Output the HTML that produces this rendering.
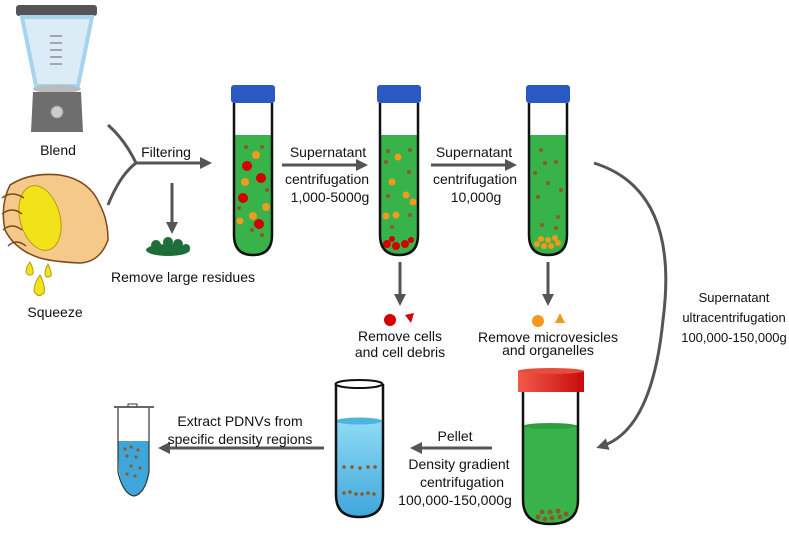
<!DOCTYPE html>
<html><head><meta charset="utf-8"><style>
html,body{margin:0;padding:0;background:#fff;width:789px;height:536px;overflow:hidden}
text{font-family:"Liberation Sans",Arial,sans-serif;font-size:14px;fill:#111}
</style></head><body>
<svg width="789" height="536" viewBox="0 0 789 536" xmlns="http://www.w3.org/2000/svg">
<defs>
<marker id="ah" viewBox="0 0 10 10" refX="5" refY="5" markerWidth="4" markerHeight="4" orient="auto"><path d="M0,0L10,5L0,10z" fill="#555"/></marker>
<linearGradient id="bl" x1="0" y1="0" x2="0" y2="1"><stop offset="0" stop-color="#8fdcf5"/><stop offset="1" stop-color="#3fa6dc"/></linearGradient>
<linearGradient id="rc" x1="0" y1="0" x2="1" y2="0"><stop offset="0" stop-color="#f25a4a"/><stop offset="1" stop-color="#c80c0c"/></linearGradient>
</defs>

<!-- Blender -->
<rect x="16" y="5" width="81" height="11" rx="3" fill="#555"/>
<path d="M22,17 L92,17 L78,86 L36,86 Z" fill="#dcecf6" stroke="#a6d4ee" stroke-width="4"/>
<g stroke="#777" stroke-width="1.2"><line x1="50" y1="36" x2="62" y2="36"/><line x1="50" y1="43" x2="62" y2="43"/><line x1="50" y1="50" x2="62" y2="50"/><line x1="50" y1="57" x2="62" y2="57"/><line x1="50" y1="64" x2="62" y2="64"/></g>
<ellipse cx="57" cy="89" rx="24" ry="4" fill="#bbb"/>
<path d="M33,92 L81,92 L83,132 L31,132 Z" fill="#6e6e6e"/>
<circle cx="57" cy="112" r="6" fill="#ccc" stroke="#999"/>
<text x="58" y="155" text-anchor="middle">Blend</text>

<!-- Hand & lemon -->
<path d="M10,185 Q30,172 60,175 Q90,180 100,205 Q108,220 108,240 Q100,262 80,263 Q55,262 40,258 Q15,250 5,230 Q0,205 10,185Z" fill="#f5c98a" stroke="#7a4a1a" stroke-width="1.5"/>
<ellipse cx="40" cy="218" rx="20" ry="33" transform="rotate(-15 40 218)" fill="#f2e21a" stroke="#b89a10"/>
<path d="M2,198 Q12,190 24,198 M2,214 Q12,206 22,214 M3,230 Q12,222 22,230 M8,246 Q16,238 26,246" fill="none" stroke="#7a4a1a" stroke-width="1.5"/>
<g fill="#f2e21a" stroke="#b89a10"><path d="M40,275 Q46,287 44,293 Q38,299 34,291 Q34,283 40,275Z"/><path d="M30,262 Q34,270 33,274 Q28,277 26,272 Q26,267 30,262Z"/><path d="M48,264 Q52,272 51,276 Q46,279 45,274 Q45,269 48,264Z"/></g>
<text x="55" y="317" text-anchor="middle">Squeeze</text>

<!-- Fork -->
<path d="M108,125 Q125,140 136,163 M108,205 Q120,175 136,163 L206,163" fill="none" stroke="#555" stroke-width="3" marker-end="url(#ah)"/>
<text x="166" y="157" text-anchor="middle">Filtering</text>
<line x1="172" y1="183" x2="172" y2="228" stroke="#555" stroke-width="3" marker-end="url(#ah)"/>
<g fill="#1f6e3a"><ellipse cx="168" cy="250" rx="22" ry="6"/><circle cx="156" cy="245" r="5"/><circle cx="168" cy="242" r="5"/><circle cx="178" cy="244" r="5"/><circle cx="186" cy="248" r="4"/></g>
<text x="183" y="282" text-anchor="middle">Remove large residues</text>

<!-- Tube 1 -->
<rect x="231" y="85" width="44" height="18" rx="3" fill="#2b59c3"/>
<path d="M234,135 L272,135 L272,235 Q272,255 253,255 Q234,255 234,235Z" fill="#37b34a"/>
<path d="M234,103 L234,235 Q234,255 253,255 Q272,255 272,235 L272,103" fill="none" stroke="#111" stroke-width="2.5"/>
<g fill="#d40000"><circle cx="247" cy="166" r="5"/><circle cx="261" cy="178" r="5"/><circle cx="243" cy="198" r="5"/><circle cx="259" cy="224" r="5"/></g>
<g fill="#f29a1e"><circle cx="256" cy="155" r="4"/><circle cx="245" cy="182" r="4"/><circle cx="266" cy="207" r="4"/><circle cx="253" cy="216" r="4"/><circle cx="240" cy="221" r="3.5"/></g>
<g fill="#8b5a2b"><circle cx="246" cy="147" r="2"/><circle cx="262" cy="147" r="2"/><circle cx="267" cy="190" r="2"/><circle cx="239" cy="208" r="2"/><circle cx="262" cy="235" r="2"/><circle cx="252" cy="230" r="2"/></g>

<!-- arrow 1 -->
<line x1="282" y1="165" x2="362" y2="165" stroke="#555" stroke-width="3" marker-end="url(#ah)"/>
<text x="328" y="157" text-anchor="middle">Supernatant</text>
<text x="327" y="184" text-anchor="middle">centrifugation</text>
<text x="330" y="202" text-anchor="middle">1,000-5000g</text>

<!-- Tube 2 -->
<rect x="377" y="85" width="44" height="18" rx="3" fill="#2b59c3"/>
<path d="M380,135 L418,135 L418,235 Q418,255 399,255 Q380,255 380,235Z" fill="#37b34a"/>
<path d="M380,103 L380,235 Q380,255 399,255 Q418,255 418,235 L418,103" fill="none" stroke="#111" stroke-width="2.5"/>
<g fill="#d40000"><circle cx="387" cy="244" r="4"/><circle cx="396" cy="246" r="4"/><circle cx="405" cy="244" r="4"/><circle cx="411" cy="240" r="3"/><circle cx="392" cy="239" r="3"/></g>
<g fill="#f29a1e"><circle cx="398" cy="157" r="3.5"/><circle cx="392" cy="182" r="3.5"/><circle cx="406" cy="195" r="3.5"/><circle cx="413" cy="202" r="3.5"/><circle cx="386" cy="216" r="3.5"/><circle cx="396" cy="215" r="3.5"/></g>
<g fill="#8b5a2b"><circle cx="388" cy="151" r="2"/><circle cx="410" cy="150" r="2"/><circle cx="386" cy="162" r="2"/><circle cx="409" cy="172" r="2"/><circle cx="388" cy="196" r="2"/><circle cx="410" cy="215" r="2"/><circle cx="392" cy="227" r="2"/></g>
<line x1="400" y1="262" x2="400" y2="300" stroke="#555" stroke-width="3" marker-end="url(#ah)"/>
<circle cx="390" cy="320" r="6" fill="#d40000"/><path d="M405,315 L414,313 L411,323Z" fill="#d40000"/>
<text x="400" y="341" text-anchor="middle">Remove cells</text>
<text x="400" y="357" text-anchor="middle">and cell debris</text>

<!-- arrow 2 -->
<line x1="431" y1="165" x2="511" y2="165" stroke="#555" stroke-width="3" marker-end="url(#ah)"/>
<text x="474" y="157" text-anchor="middle">Supernatant</text>
<text x="475" y="184" text-anchor="middle">centrifugation</text>
<text x="476" y="202" text-anchor="middle">10,000g</text>

<!-- Tube 3 -->
<rect x="526" y="85" width="44" height="18" rx="3" fill="#2b59c3"/>
<path d="M529,135 L567,135 L567,235 Q567,255 548,255 Q529,255 529,235Z" fill="#37b34a"/>
<path d="M529,103 L529,235 Q529,255 548,255 Q567,255 567,235 L567,103" fill="none" stroke="#111" stroke-width="2.5"/>
<g fill="#f29a1e"><circle cx="537" cy="244" r="3"/><circle cx="544" cy="246" r="3"/><circle cx="551" cy="246" r="3"/><circle cx="558" cy="243" r="3"/><circle cx="541" cy="239" r="3"/><circle cx="548" cy="240" r="3"/><circle cx="555" cy="238" r="3"/></g>
<g fill="#8b5a2b"><circle cx="541" cy="150" r="2"/><circle cx="545" cy="163" r="2"/><circle cx="556" cy="162" r="2"/><circle cx="535" cy="173" r="2"/><circle cx="548" cy="183" r="2"/><circle cx="561" cy="190" r="2"/><circle cx="538" cy="197" r="2"/><circle cx="558" cy="217" r="2"/><circle cx="542" cy="225" r="2"/><circle cx="556" cy="228" r="2"/></g>
<line x1="548" y1="262" x2="548" y2="300" stroke="#555" stroke-width="3" marker-end="url(#ah)"/>
<circle cx="538" cy="321" r="6" fill="#f29a1e"/><path d="M555,323 L560,313 L565,323Z" fill="#f29a1e"/>
<text x="548" y="342" text-anchor="middle">Remove microvesicles</text>
<text x="548" y="355" text-anchor="middle">and organelles</text>

<!-- curved arrow -->
<path d="M594,163 Q680,190 663,320 Q652,430 602,446" fill="none" stroke="#555" stroke-width="3" marker-end="url(#ah)"/>
<g style="font-size:13px"><text x="734" y="302" text-anchor="middle" style="font-size:13px">Supernatant</text>
<text x="734" y="322" text-anchor="middle" style="font-size:13px">ultracentrifugation</text>
<text x="734" y="342" text-anchor="middle" style="font-size:13px">100,000-150,000g</text></g>

<!-- Red-cap tube -->
<path d="M523,425 L578,425 L578,500 Q578,524 550,524 Q523,524 523,500Z" fill="#37b34a"/>
<ellipse cx="550" cy="426" rx="27" ry="3" fill="#2f9e3f"/>
<path d="M523,392 L523,500 Q523,524 550,524 Q578,524 578,500 L578,392" fill="none" stroke="#111" stroke-width="2.5"/>
<rect x="518" y="371" width="66" height="21" fill="url(#rc)"/>
<ellipse cx="551" cy="371" rx="33" ry="3" fill="#e74c3c"/>
<g fill="#8b5a2b"><circle cx="538" cy="517" r="2.5"/><circle cx="545" cy="519" r="2.5"/><circle cx="552" cy="518" r="2.5"/><circle cx="560" cy="517" r="2.5"/><circle cx="542" cy="512" r="2.5"/><circle cx="550" cy="512" r="2.5"/><circle cx="558" cy="511" r="2.5"/><circle cx="566" cy="514" r="2.5"/></g>

<!-- Pellet arrow -->
<line x1="492" y1="448" x2="416" y2="448" stroke="#555" stroke-width="3" marker-end="url(#ah)"/>
<text x="455" y="441" text-anchor="middle">Pellet</text>
<text x="459" y="469" text-anchor="middle">Density gradient</text>
<text x="462" y="487" text-anchor="middle">centrifugation</text>
<text x="455" y="505" text-anchor="middle">100,000-150,000g</text>

<!-- Blue tube -->
<path d="M336,420 L383,420 L383,495 Q383,517 359,517 Q336,517 336,495Z" fill="url(#bl)"/>
<ellipse cx="359" cy="421" rx="23" ry="3.5" fill="#4fb3e0"/>
<path d="M336,384 L336,495 Q336,517 359,517 Q383,517 383,495 L383,384" fill="none" stroke="#111" stroke-width="2.5"/>
<ellipse cx="359" cy="384" rx="23.5" ry="4" fill="#fff" stroke="#111" stroke-width="2"/>
<g fill="#8b5a2b"><circle cx="344" cy="467" r="1.8"/><circle cx="352" cy="467" r="1.8"/><circle cx="360" cy="468" r="1.8"/><circle cx="368" cy="467" r="1.8"/><circle cx="375" cy="467" r="1.8"/><circle cx="344" cy="493" r="1.8"/><circle cx="350" cy="492" r="1.8"/><circle cx="356" cy="494" r="1.8"/><circle cx="362" cy="494" r="1.8"/><circle cx="368" cy="493" r="1.8"/><circle cx="374" cy="494" r="1.8"/></g>

<!-- Extract arrow -->
<line x1="324" y1="448" x2="164" y2="448" stroke="#555" stroke-width="3" marker-end="url(#ah)"/>
<text x="240" y="426" text-anchor="middle">Extract PDNVs from</text>
<text x="240" y="444" text-anchor="middle">specific density regions</text>

<!-- Eppendorf -->
<path d="M118,441 L149,441 L149,472 Q145,494 134,496 Q123,494 119,472Z" fill="#3fa6dc"/>
<path d="M118,408 L118,472 Q123,494 134,496 Q145,494 149,472 L149,408" fill="none" stroke="#333" stroke-width="1.2"/>
<line x1="114" y1="407" x2="154" y2="407" stroke="#333" stroke-width="1.5"/>
<rect x="128" y="404" width="9" height="3" fill="none" stroke="#333"/>
<g fill="#8b5a2b"><circle cx="125" cy="449" r="1.6"/><circle cx="131" cy="447" r="1.6"/><circle cx="138" cy="450" r="1.6"/><circle cx="127" cy="456" r="1.6"/><circle cx="136" cy="457" r="1.6"/><circle cx="131" cy="466" r="1.6"/><circle cx="140" cy="468" r="1.6"/><circle cx="127" cy="474" r="1.6"/><circle cx="135" cy="476" r="1.6"/></g>
</svg>
</body></html>
